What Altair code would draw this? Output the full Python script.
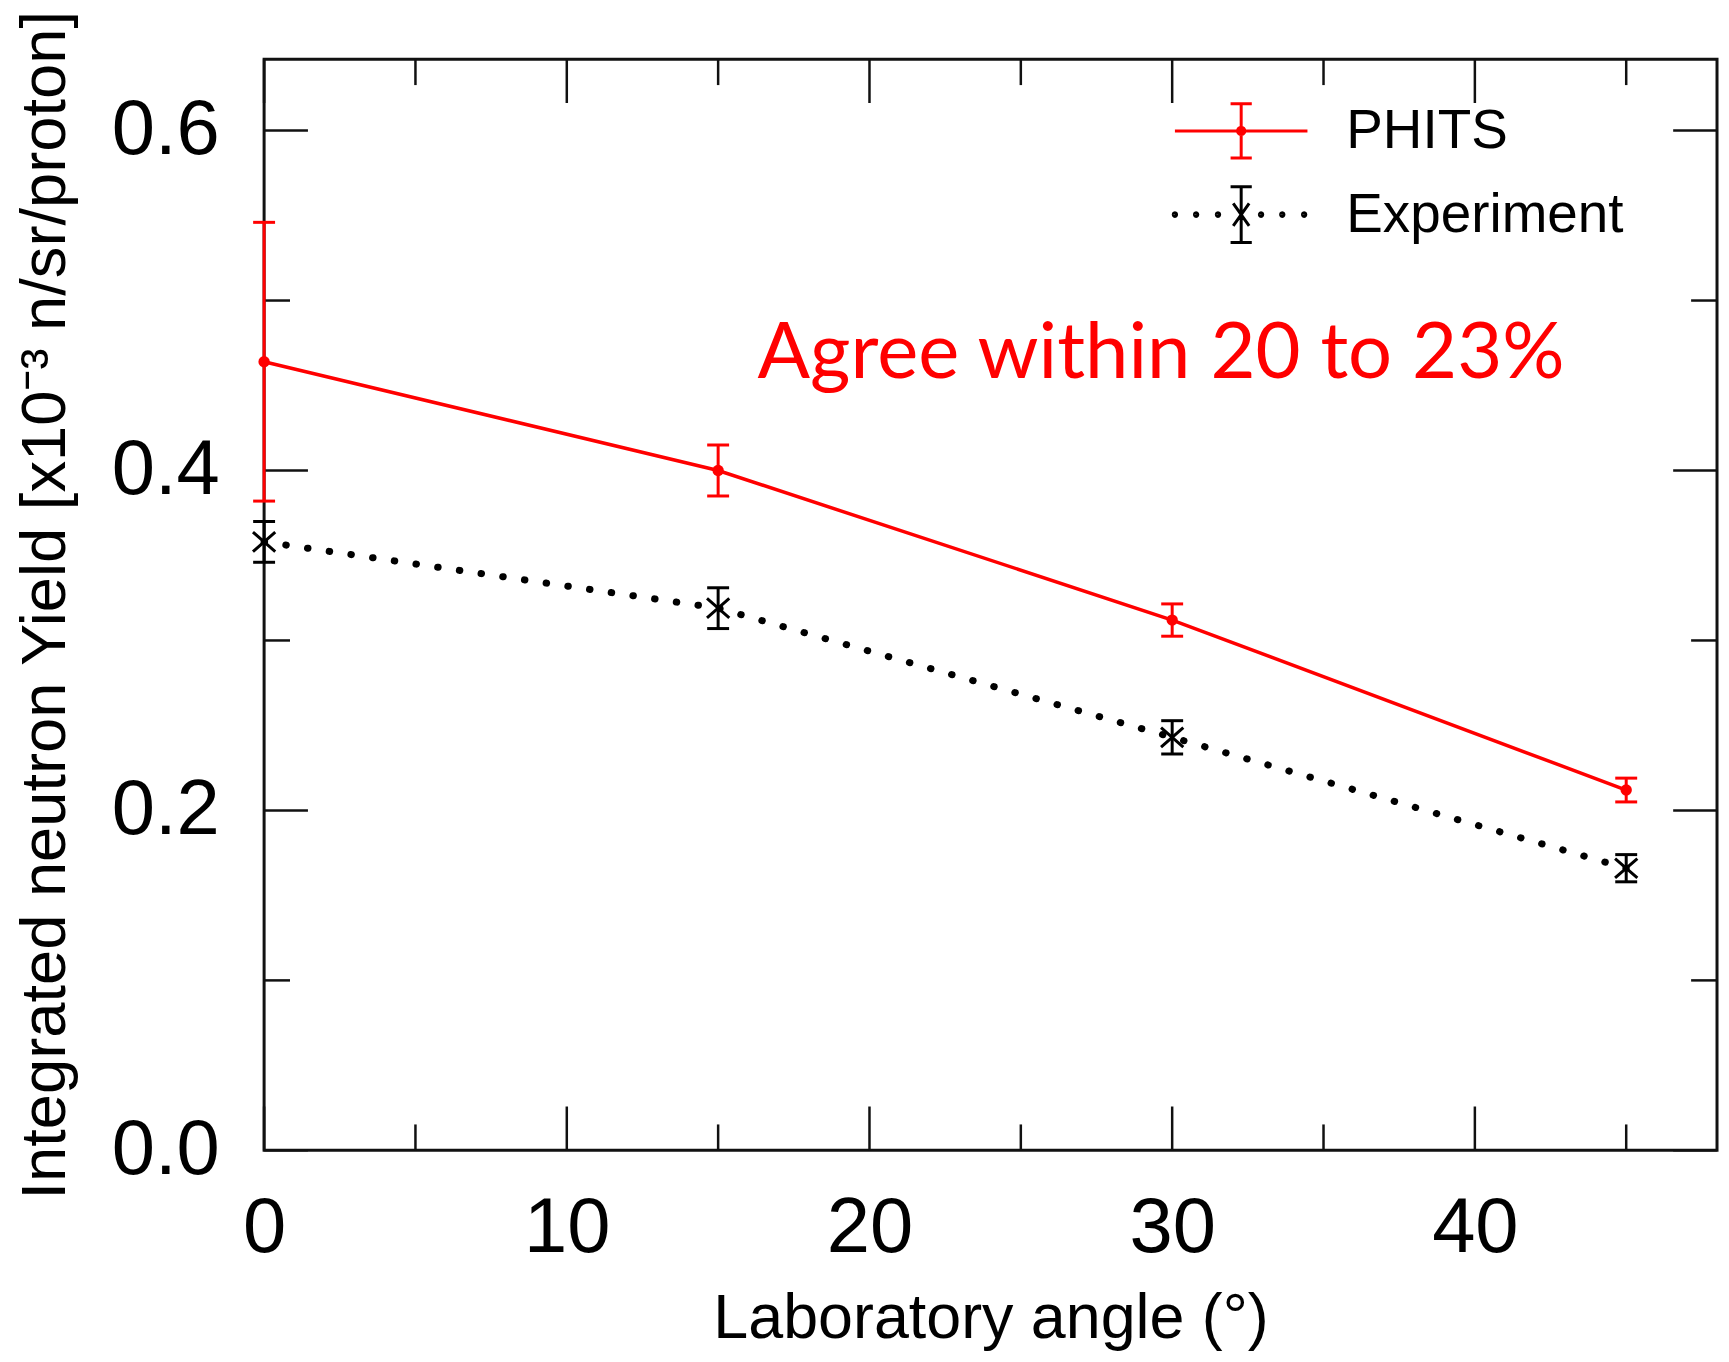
import altair as alt
import pandas as pd

# ---------------- data ----------------
angles = [0, 15, 30, 45]
phits_vals = [0.464, 0.400, 0.312, 0.212]
phits_err = [0.082, 0.015, 0.0095, 0.007]
exp_vals = [0.358, 0.319, 0.243, 0.166]
exp_err = [0.012, 0.012, 0.0098, 0.008]

series_names = ["PHITS", "Experiment"]
series_colors = ["#ff0000", "#000000"]

x_label_vals = [0, 10, 20, 30, 40]
y_label_vals = [0.0, 0.2, 0.4, 0.6]
x_major = [0, 10, 20, 30, 40]
x_minor = [5, 15, 25, 35, 45]
y_major = [0.0, 0.2, 0.4, 0.6]
y_minor = [0.1, 0.3, 0.5]

note_text = ["Agree within 20 to 23%"]
note_x = [29.63]
note_y = [0.468]

# ---------------- tables ----------------
phits = pd.DataFrame({"angle": angles, "value": phits_vals, "err": phits_err, "series": "PHITS"})
exper = pd.DataFrame({"angle": angles, "value": exp_vals, "err": exp_err, "series": "Experiment"})
for d in (phits, exper):
    d["lo"] = d["value"] - d["err"]
    d["hi"] = d["value"] + d["err"]
both = pd.concat([phits, exper], ignore_index=True)
note = pd.DataFrame({"t": note_text, "nx": note_x, "ny": note_y})

W, H = 1458, 1095
FONT = "Liberation Sans"
FRAME = "#111111"

xscale = alt.Scale(domain=[0, 48], nice=False, zero=False)
yscale = alt.Scale(domain=[0, 0.642], nice=False, zero=False)

x_axis = alt.Axis(
    values=x_label_vals, format="d", ticks=False, tickSize=0, domain=False, grid=False,
    labelFont=FONT, labelFontSize=78, labelColor="black", labelPadding=39,
    labelFlush=False, labelOverlap=False,
    title="Laboratory angle (°)", titleFont=FONT, titleFontSize=63,
    titleFontWeight="normal", titleColor="black",
    titleX=W / 2, titleY=188, titleBaseline="alphabetic", titleAlign="center",
)
y_axis = alt.Axis(
    values=y_label_vals, format=".1f", ticks=False, tickSize=0, domain=False, grid=False,
    labelFont=FONT, labelFontSize=78, labelColor="black", labelPadding=45,
    labelFlush=False, labelOverlap=False,
    title="Integrated neutron Yield [x10⁻³ n/sr/proton]", titleFont=FONT, titleFontSize=63.5,
    titleFontWeight="normal", titleColor="black",
    titleX=-200, titleY=H / 2, titleAngle=270, titleBaseline="alphabetic", titleAlign="center",
)


def X(field):
    return alt.X(f"{field}:Q", scale=xscale, axis=x_axis)


def Y(field):
    return alt.Y(f"{field}:Q", scale=yscale, axis=y_axis)


layers = []

# ---------------- inward ticks on all four sides ----------------
MAJ, MIN = 44, 26
for vals, ln in ((y_major, MAJ), (y_minor, MIN)):
    d = pd.DataFrame({"v": vals})
    base = alt.Chart(d).mark_rule(color=FRAME, strokeWidth=2.5)
    layers.append(base.encode(y=Y("v"), x=alt.value(0), x2=alt.value(ln)))
    layers.append(base.encode(y=Y("v"), x=alt.value(W - ln), x2=alt.value(W)))
for vals, ln in ((x_major, MAJ), (x_minor, MIN)):
    d = pd.DataFrame({"v": vals})
    base = alt.Chart(d).mark_rule(color=FRAME, strokeWidth=2.5)
    layers.append(base.encode(x=X("v"), y=alt.value(H), y2=alt.value(H - ln)))
    layers.append(base.encode(x=X("v"), y=alt.value(0), y2=alt.value(ln)))

# ---------------- series ----------------
# Experiment (dotted black, X markers)
layers.append(
    alt.Chart(exper).mark_line(color="black", strokeWidth=7, strokeDash=[0.5, 21.5], strokeCap="round")
    .encode(x=X("angle"), y=Y("value"))
)
layers.append(alt.Chart(exper).mark_rule(color="black", strokeWidth=3).encode(x=X("angle"), y=Y("lo"), y2="hi"))
layers.append(alt.Chart(exper).mark_tick(orient="horizontal", size=22, thickness=3, color="black", opacity=1).encode(x=X("angle"), y=Y("lo")))
layers.append(alt.Chart(exper).mark_tick(orient="horizontal", size=22, thickness=3, color="black", opacity=1).encode(x=X("angle"), y=Y("hi")))
layers.append(
    alt.Chart(exper).mark_point(shape="M-1,-0.87L1,0.87M-1,0.87L1,-0.87", size=500, filled=False,
                                color="black", strokeWidth=3, opacity=1)
    .encode(x=X("angle"), y=Y("value"))
)

# PHITS (solid red, dot markers)
layers.append(alt.Chart(phits).mark_line(color="#ff0000", strokeWidth=3.5).encode(x=X("angle"), y=Y("value")))
layers.append(alt.Chart(phits).mark_rule(color="#ff0000", strokeWidth=3).encode(x=X("angle"), y=Y("lo"), y2="hi"))
layers.append(alt.Chart(phits).mark_tick(orient="horizontal", size=22, thickness=3, color="#ff0000", opacity=1).encode(x=X("angle"), y=Y("lo")))
layers.append(alt.Chart(phits).mark_tick(orient="horizontal", size=22, thickness=3, color="#ff0000", opacity=1).encode(x=X("angle"), y=Y("hi")))
layers.append(
    alt.Chart(phits).mark_circle(color="#ff0000", size=130, opacity=1).encode(x=X("angle"), y=Y("value"))
)

# ---------------- legend (symbols built from custom paths) ----------------
K = 1.642  # path units are scaled so that the symbol box (81 px) keeps the rows close


def p(v):
    return round(v * K, 4)


def ring(cx, r):
    return f"M{p(cx - r)},0a{p(r)},{p(r)} 0 1,0 {p(2 * r)},0a{p(r)},{p(r)} 0 1,0 {p(-2 * r)},0"


path_phits = (f"M{p(-1)},0L{p(1)},0M0,{p(-0.41)}L0,{p(0.41)}"
              f"M{p(-0.16)},{p(-0.41)}L{p(0.16)},{p(-0.41)}M{p(-0.16)},{p(0.41)}L{p(0.16)},{p(0.41)}"
              + ring(0, 0.055) + ring(0, 0.03) + ring(0, 0.01))
dots = [-1.0, -0.68, -0.35, 0.3, 0.62, 0.95]
path_exp = (f"M0,{p(-0.42)}L0,{p(0.42)}"
            f"M{p(-0.16)},{p(-0.42)}L{p(0.16)},{p(-0.42)}M{p(-0.16)},{p(0.42)}L{p(0.16)},{p(0.42)}"
            f"M{p(-0.12)},{p(-0.17)}L{p(0.12)},{p(0.17)}M{p(-0.12)},{p(0.17)}L{p(0.12)},{p(-0.17)}"
            + "".join(ring(c, 0.025) for c in dots))

SYM = 6561
leg = alt.Legend(
    title=None, orient="none", legendX=938.5, legendY=30, padding=0,
    symbolSize=SYM, symbolStrokeWidth=3, symbolOpacity=1, labelFont=FONT, labelFontSize=55,
    labelColor="black", labelOffset=63.5, labelLimit=0, rowPadding=8,
)
layers.append(
    alt.Chart(both).transform_filter("datum.angle < -1")
    .mark_point(filled=False, strokeWidth=3, size=SYM, opacity=1)
    .encode(
        x=X("angle"), y=Y("value"),
        color=alt.Color("series:N", scale=alt.Scale(domain=series_names, range=series_colors), legend=leg),
        shape=alt.Shape("series:N", scale=alt.Scale(domain=series_names, range=[path_phits, path_exp]), legend=leg),
    )
)

# ---------------- annotation ----------------
layers.append(
    alt.Chart(note).mark_text(font="Lato", fontSize=78, color="#ff0000", align="center", baseline="middle")
    .encode(x=X("nx"), y=Y("ny"), text="t:N")
)

chart = (
    alt.layer(*layers)
    .properties(
        width=W, height=H,
        padding={"left": 257, "top": 49, "right": 4, "bottom": 201},
        autosize=alt.AutoSizeParams(type="none"),
    )
    .configure_view(stroke=FRAME, strokeWidth=3)
)

chart.save("out.html", embed_options={"renderer": "svg", "actions": False})
